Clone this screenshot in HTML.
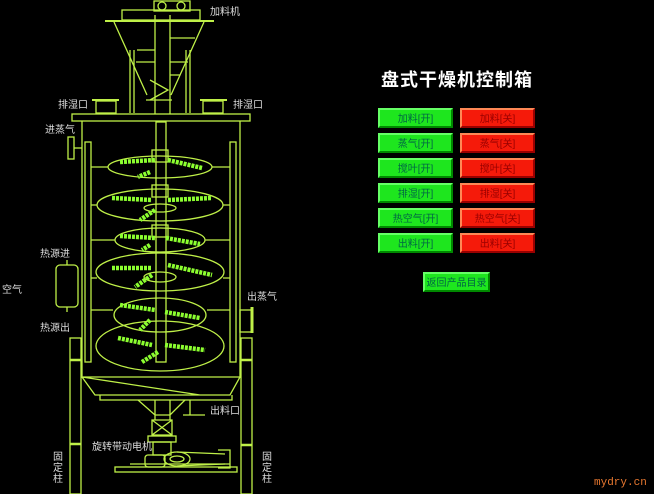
<!DOCTYPE html>
<html><head><meta charset="utf-8"><style>
html,body{margin:0;padding:0;background:#000;width:654px;height:494px;overflow:hidden;font-family:"Liberation Sans","Noto Sans CJK SC",sans-serif}
.t{position:absolute;color:#ddd;font-size:10px;white-space:nowrap}
.b{position:absolute;width:75px;height:20px;font-size:10px;line-height:20px;text-align:center;box-sizing:border-box}
.g{background:#1ee61e;color:#064;border:2px solid;border-color:#6f6 #080 #080 #6f6}
.r{background:#f51a0a;color:#900;border:2px solid;border-color:#f85 #900 #900 #f85}
</style></head><body>
<svg width="654" height="494" style="position:absolute;left:0;top:0" fill="none" stroke="#bff048" stroke-width="1.3">
<rect x="154" y="1" width="36" height="10"/><circle cx="162" cy="6" r="4"/><circle cx="181" cy="6" r="4"/>
<rect x="122" y="10" width="78" height="10"/>
<line x1="105" y1="21" x2="214" y2="21" stroke-width="2"/>
<path d="M114 22 L147 95 M204 22 L171 95"/>
<path d="M155 15 V114 M170 15 V114 M130 50 V113 M190 50 V113 M134 50 V113 M186 50 V113"/>
<path d="M137 50 H155 M170 38 H195 M170 62 H188 M136 62 H155 M170 75 H180 M150 100 L168 90 L150 80"/>
<line x1="146" y1="100" x2="172" y2="100"/>
<rect x="96" y="101" width="20" height="12"/><line x1="92" y1="100" x2="119" y2="100" stroke-width="2"/>
<rect x="203" y="101" width="20" height="12"/><line x1="200" y1="100" x2="227" y2="100" stroke-width="2"/>
<rect x="72" y="114" width="178" height="7"/>
<path d="M82 121 V378 M240 121 V378"/>
<rect x="68" y="137" width="6" height="22"/><line x1="74" y1="148" x2="82" y2="148"/>
<rect x="85" y="142" width="6" height="220"/><rect x="230" y="142" width="6" height="220"/>
<path d="M91 167 H108 M212 167 H230 M91 205 H97 M223 205 H230 M91 240 H115 M205 240 H230 M91 310 H113 M207 310 H230 M91 278 H97 M223 278 H230"/>
<rect x="156" y="122" width="10" height="240"/>
<rect x="152" y="150" width="16" height="12"/><rect x="152" y="185" width="16" height="12"/><rect x="152" y="225" width="16" height="12"/>
<ellipse cx="160" cy="167" rx="52" ry="11"/>
<ellipse cx="160" cy="205" rx="63" ry="16"/>
<ellipse cx="160" cy="240" rx="45" ry="12"/>
<ellipse cx="160" cy="272" rx="64" ry="19"/>
<ellipse cx="160" cy="315" rx="46" ry="17"/>
<ellipse cx="160" cy="346" rx="64" ry="25"/>
<ellipse cx="160" cy="208" rx="16" ry="4"/><ellipse cx="160" cy="277" rx="16" ry="5"/>
<g stroke="#8cff30" stroke-width="4.5" stroke-dasharray="3 1">
<path d="M120 162 L155 160 M168 160 L202 168 M150 172 L138 177"/>
<path d="M112 198 L152 200 M168 200 L212 198 M155 210 L140 220"/>
<path d="M120 236 L155 238 M166 238 L200 244 M150 245 L142 250"/>
<path d="M112 268 L152 268 M168 265 L212 275 M152 275 L135 287"/>
<path d="M120 305 L155 310 M165 312 L200 318 M150 320 L140 330"/>
<path d="M118 338 L152 345 M165 345 L205 350 M158 352 L142 362"/>
</g>
<rect x="56" y="265" width="22" height="42" rx="4"/><path d="M67 260 V265 M67 307 V312"/>
<rect x="240" y="310" width="12" height="22"/><line x1="252" y1="307" x2="252" y2="333" stroke-width="3"/>
<rect x="70" y="338" width="11" height="156"/><rect x="241" y="338" width="11" height="156"/>
<path d="M70 360 H81 M241 360 H252 M70 444 H81 M241 445 H252" stroke-width="2.5"/>
<path d="M82 377 H240 L230 395 H95 Z M82 377 L200 395 M100 395 V400 H232 V395"/>
<path d="M138 400 L155 415 H170 L185 400 M155 400 V420 M170 400 V420"/>
<path d="M190 400 V415 H205 M190 415 H183"/>
<path d="M152 420 H172 V435 H152 Z M152 420 L172 435 M172 420 L152 435"/>
<rect x="148" y="436" width="28" height="6"/><rect x="153" y="442" width="18" height="13"/>
<rect x="145" y="455" width="20" height="12" rx="3"/>
<ellipse cx="177" cy="459" rx="13" ry="7"/><ellipse cx="177" cy="459" rx="7" ry="3"/>
<path d="M177 452 L225 454 M177 466 L225 464 M218 450 H230 V468 H218"/>
<rect x="115" y="467" width="122" height="5"/><line x1="130" y1="464" x2="230" y2="464"/>
</svg>
<div class="t" style="left:210px;top:3px">加料机</div>
<div class="t" style="left:58px;top:96px">排湿口</div>
<div class="t" style="left:233px;top:96px">排湿口</div>
<div class="t" style="left:45px;top:121px">进蒸气</div>
<div class="t" style="left:40px;top:245px">热源进</div>
<div class="t" style="left:2px;top:281px">空气</div>
<div class="t" style="left:40px;top:319px">热源出</div>
<div class="t" style="left:247px;top:288px">出蒸气</div>
<div class="t" style="left:210px;top:402px">出料口</div>
<div class="t" style="left:92px;top:438px">旋转带动电机</div>
<div class="t" style="left:53px;top:452px;width:10px;line-height:11px;white-space:normal">固定柱</div>
<div class="t" style="left:262px;top:452px;width:10px;line-height:11px;white-space:normal">固定柱</div>
<div class="t" style="left:594px;top:477px;color:#e87830;font-family:'Liberation Mono',monospace;font-size:11px">mydry.cn</div>
<div style="position:absolute;left:381px;top:66px;color:#fff;font-size:18px;font-weight:bold;letter-spacing:1px">盘式干燥机控制箱</div>
<div class="b g" style="left:378px;top:108px">加料[开]</div><div class="b r" style="left:460px;top:108px">加料[关]</div>
<div class="b g" style="left:378px;top:133px">蒸气[开]</div><div class="b r" style="left:460px;top:133px">蒸气[关]</div>
<div class="b g" style="left:378px;top:158px">搅叶[开]</div><div class="b r" style="left:460px;top:158px">搅叶[关]</div>
<div class="b g" style="left:378px;top:183px">排湿[开]</div><div class="b r" style="left:460px;top:183px">排湿[关]</div>
<div class="b g" style="left:378px;top:208px">热空气[开]</div><div class="b r" style="left:460px;top:208px">热空气[关]</div>
<div class="b g" style="left:378px;top:233px">出料[开]</div><div class="b r" style="left:460px;top:233px">出料[关]</div>
<div class="b g" style="left:423px;top:272px;width:67px">返回产品目录</div>
</body></html>
